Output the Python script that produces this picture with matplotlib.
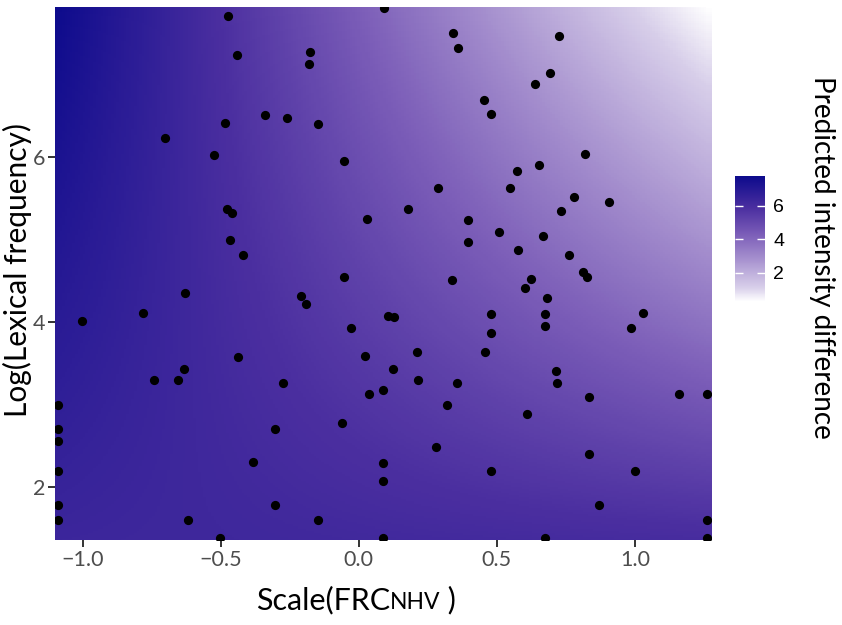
import matplotlib
matplotlib.use("Agg")
import matplotlib.pyplot as plt
import numpy as np
from matplotlib.colors import LinearSegmentedColormap, Normalize
from matplotlib.offsetbox import AnchoredOffsetbox, HPacker, TextArea

# observed words: scaled FRC_NHV vs log lexical frequency
frc = [
    -0.475, -0.442, -0.178, -0.180, -0.341, -0.261, -0.486, -0.147, -0.703, -0.523,
    -0.054, -0.477, -0.460, -0.466, -0.419, -0.052, 0.092, 0.342, 0.358, 0.726,
    0.692, 0.639, 0.455, 0.478, 0.818, 0.652, 0.574, 0.547, 0.287, 0.779,
    0.906, 0.733, 0.179, 0.030, 0.394, 0.395, 0.508, 0.667, 0.575, 0.761,
    0.810, 0.827, 0.338, 0.623, 0.601, 0.682, 0.478, 0.674, 0.674, 0.478,
    1.030, 0.986, 0.106, 0.127, -0.027, 0.021, 0.210, 0.457, 0.124, 0.216,
    0.356, 0.714, 0.719, 0.036, 0.086, 0.320, 0.834, 1.159, 1.261, 0.609,
    0.281, 0.086, 0.086, 0.478, 0.834, 1.000, 0.870, 1.261, 1.261, 0.086,
    0.674, -0.630, -0.211, -0.190, -0.780, -1.003, -0.436, -0.634, -0.742, -0.653,
    -0.275, -1.088, -1.088, -1.088, -1.088, -1.088, -1.088, -0.305, -0.062, -0.384,
    -0.305, -0.618, -0.149, -0.503,
]
log_freq = [
    7.71, 7.23, 7.265, 7.124, 6.509, 6.469, 6.412, 6.396, 6.227, 6.021,
    5.952, 5.370, 5.314, 4.990, 4.808, 4.54, 7.80, 7.499, 7.318, 7.463,
    7.015, 6.881, 6.687, 6.518, 6.029, 5.899, 5.827, 5.624, 5.617, 5.515,
    5.447, 5.345, 5.370, 5.245, 5.233, 4.970, 5.091, 5.039, 4.869, 4.805,
    4.599, 4.538, 4.50, 4.52, 4.405, 4.287, 4.09, 4.09, 3.948, 3.867,
    4.109, 3.927, 4.073, 4.053, 3.927, 3.58, 3.633, 3.633, 3.427, 3.290,
    3.253, 3.399, 3.253, 3.127, 3.172, 2.99, 3.084, 3.127, 3.127, 2.881,
    2.478, 2.291, 2.069, 2.19, 2.393, 2.19, 1.782, 1.596, 1.382, 1.382,
    1.382, 4.344, 4.315, 4.218, 4.105, 4.005, 3.576, 3.427, 3.293, 3.293,
    3.253, 2.99, 2.699, 2.554, 2.187, 1.782, 1.6, 2.699, 2.768, 2.296,
    1.782, 1.6, 1.6, 1.382,
]

# predicted surface at the panel corners (x: left/right, y: bottom/top)
x_range = [-1.10, 1.275]
y_range = [1.354, 7.81]
pred_bottom = [6.3, 6.0]
pred_top = [7.75, 0.25]

x_ticks = [-1.0, -0.5, 0.0, 0.5, 1.0]
y_ticks = [2, 4, 6]
cbar_ticks = [2, 4, 6]
z_min, z_max = 0.25, 7.77

cmap = LinearSegmentedColormap.from_list(
    "white_navy",
    [(0.0, "#ffffff"), (0.113, "#d8cfea"), (0.326, "#a994d0"),
     (0.536, "#7b5db8"), (0.745, "#4b2fa0"), (1.0, "#0c0a8c")],
)
norm = Normalize(z_min, z_max)
label_font = ["Lato", "DejaVu Sans"]

fig = plt.figure(figsize=(8.42, 6.25), dpi=100)
ax = fig.add_axes([0.0653, 0.136, 0.7791, 0.8524])

# pixel centres sit on the panel corners so bilinear resampling spans the panel
dx = x_range[1] - x_range[0]
dy = y_range[1] - y_range[0]
surface = np.array([pred_bottom, pred_top])
ax.imshow(surface, origin="lower", cmap=cmap, norm=norm, interpolation="bilinear",
          extent=[x_range[0] - dx / 2, x_range[1] + dx / 2,
                  y_range[0] - dy / 2, y_range[1] + dy / 2],
          aspect="auto")
ax.scatter(frc, log_freq, s=44, color="black", linewidths=0, zorder=3)

ax.set_xlim(x_range)
ax.set_ylim(y_range)
ax.set_xticks(x_ticks)
ax.set_xticklabels([f"{t:.1f}".replace("-", "\u2212") for t in x_ticks])
ax.set_yticks(y_ticks)
for s in ax.spines.values():
    s.set_visible(False)
ax.tick_params(length=5, width=1.4, color="#333333", labelcolor="#4d4d4d", pad=2)
for lab in ax.get_xticklabels() + ax.get_yticklabels():
    lab.set_fontfamily(label_font)
    lab.set_fontsize(15.5)

fig.text(17 / 842, 1 - 270 / 625, "Log(Lexical frequency)", rotation=90,
         family=label_font, size=21.5, ha="center", va="center")

xlab = HPacker(children=[
    TextArea("Scale(FRC", textprops=dict(size=22, family=label_font)),
    TextArea("NHV", textprops=dict(size=16.5, family=label_font)),
    TextArea(" )", textprops=dict(size=22, family=label_font)),
], align="baseline", pad=0, sep=0)
box = AnchoredOffsetbox(loc="center", child=xlab, frameon=False,
                        bbox_to_anchor=(356 / 842, 1 - 600 / 625),
                        bbox_transform=fig.transFigure, borderpad=0, pad=0)
fig.add_artist(box)

cax = fig.add_axes([0.873, 0.517, 0.0356, 0.2016])
sm = plt.cm.ScalarMappable(norm=norm, cmap=cmap)
cb = fig.colorbar(sm, cax=cax, ticks=cbar_ticks)
cb.outline.set_visible(False)
cax.yaxis.set_ticks_position("both")
cax.tick_params(direction="in", length=6, width=1, color="white",
                labelleft=False, labelright=True, labelsize=14, pad=6)
for lab in cax.get_yticklabels():
    lab.set_fontfamily(["Liberation Sans", "DejaVu Sans"])

fig.text(822 / 842, 1 - 257 / 625, "Predicted intensity difference", rotation=-90,
         family=label_font, size=20, ha="center", va="center")

fig.savefig("out.png", dpi=100)
